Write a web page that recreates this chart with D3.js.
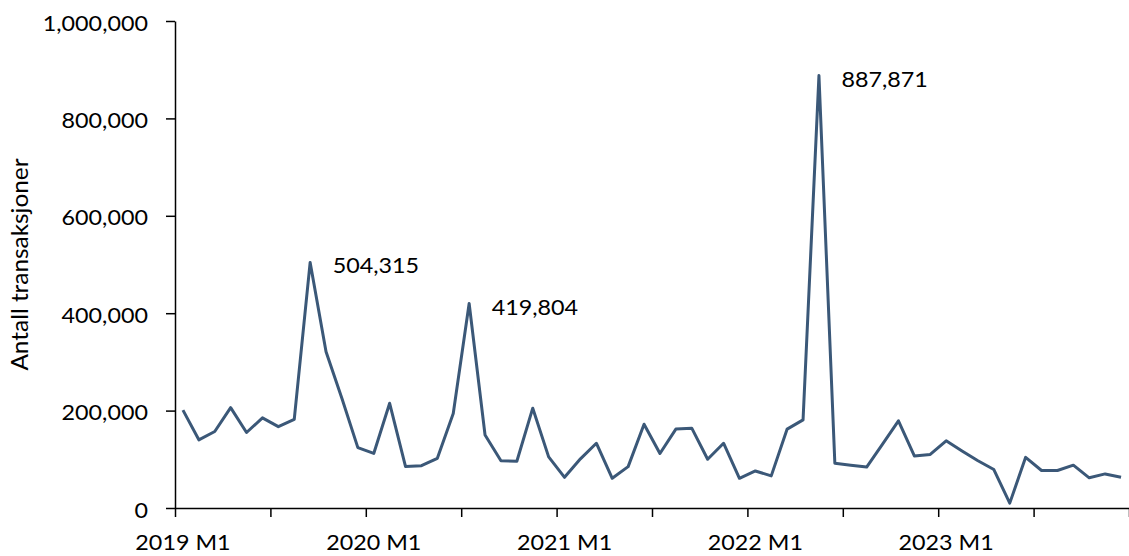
<!DOCTYPE html>
<html>
<head>
<meta charset="utf-8">
<script src="https://cdn.jsdelivr.net/npm/d3@7"></script>
<style>
  html, body { margin: 0; padding: 0; background: #fff; }
  svg { display: block; }
  .txt { font-family: Lato, "Open Sans", sans-serif; fill: #000; }
</style>
</head>
<body>
<svg id="chart" width="1129" height="556"></svg>
<script>
// Monthly transaction counts, 2019 M1 – 2023 M12
const years = [2019, 2020, 2021, 2022, 2023];
const months = years.flatMap(yr => d3.range(1, 13).map(m => `${yr} M${m}`));
const transactions = [
  201000, 140000, 157000, 206000, 155000, 185000, 167000, 182000, 504315, 321000, 225000, 124000,
  112000, 215000, 85000, 87000, 102000, 194000, 419804, 150000, 97000, 96000, 205000, 105000,
  63000, 101000, 133000, 61000, 85000, 172000, 112000, 162000, 164000, 100000, 133000, 61000,
  76000, 66000, 162000, 181000, 887871, 92000, 88000, 84000, 131000, 179000, 107000, 110000,
  138000, 117000, 97000, 79000, 10000, 104000, 77000, 77000, 88000, 62000, 70000, 63000
];
const yTicks = [0, 200000, 400000, 600000, 800000, 1000000];
const labelled = ["2019 M9", "2020 M7", "2022 M5"];
const yTitle = "Antall transaksjoner";

const svg = d3.select("#chart");
const plotLeft = 175, plotRight = 1129, plotTop = 21, plotBottom = 508;
const fontSize = 22;
const stretch = "scale(1.06,1)"; // slightly wide lettering

const x = d3.scaleBand().domain(months).range([plotLeft, plotRight]).padding(0);
const xIdx = d3.scaleLinear().domain([0, months.length]).range([plotLeft, plotRight]);
const y = d3.scaleLinear().domain([0, 1000000]).range([plotBottom, plotTop]);
const cx = m => x(m) + x.bandwidth() / 2;
const fmt = d3.format(",");

// y axis
const yAxis = svg.append("g")
  .attr("transform", `translate(${plotLeft},0)`)
  .call(d3.axisLeft(y).tickValues(yTicks).tickFormat(fmt).tickSize(9).tickSizeOuter(0).tickPadding(16.5));
yAxis.select(".domain").attr("stroke", "#000").attr("stroke-width", 1.5);
yAxis.selectAll(".tick line").attr("stroke", "#000").attr("stroke-width", 1.5);
yAxis.selectAll(".tick text")
  .attr("class", "txt").attr("dy", "0.41em").attr("transform", stretch)
  .style("font-size", fontSize + "px");

// x axis: tick marks every six months
const xAxis = svg.append("g")
  .attr("transform", `translate(0,${plotBottom})`)
  .call(d3.axisBottom(xIdx).tickValues(d3.range(0, months.length + 1, 6)).tickFormat("").tickSize(9).tickSizeOuter(0));
xAxis.select(".domain").attr("stroke", "#000").attr("stroke-width", 1.5);
xAxis.selectAll(".tick line").attr("stroke", "#000").attr("stroke-width", 1.5);

// x labels at each January
const xLab = svg.append("g")
  .attr("transform", `translate(0,${plotBottom})`)
  .call(d3.axisBottom(x).tickValues(months.filter(m => m.endsWith(" M1"))).tickSize(0).tickPadding(26.4));
xLab.select(".domain").remove();
xLab.selectAll(".tick text")
  .attr("class", "txt").attr("transform", stretch)
  .style("font-size", fontSize + "px");

// y title
svg.append("text")
  .attr("class", "txt")
  .attr("transform", `translate(28,${(plotTop + plotBottom) / 2}) rotate(-90) ${stretch}`)
  .attr("text-anchor", "middle")
  .style("font-size", "23px")
  .text(yTitle);

// series line
const line = d3.line().x((d, i) => cx(months[i])).y(d => y(d));
svg.append("path")
  .datum(transactions)
  .attr("fill", "none")
  .attr("stroke", "#3b5878")
  .attr("stroke-width", 3)
  .attr("stroke-linejoin", "round")
  .attr("d", line);

// value labels on the peaks
svg.append("g").selectAll("text")
  .data(labelled)
  .join("text")
  .attr("class", "txt")
  .attr("transform", m => `translate(${cx(m) + 22.5},${y(transactions[months.indexOf(m)]) + 11}) ${stretch}`)
  .style("font-size", fontSize + "px")
  .text(m => fmt(transactions[months.indexOf(m)]));
</script>
</body>
</html>
